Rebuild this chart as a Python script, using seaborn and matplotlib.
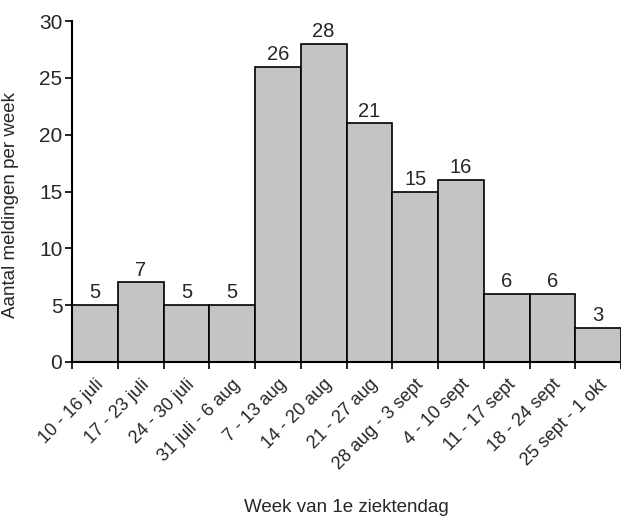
import matplotlib
matplotlib.use("Agg")
import matplotlib.pyplot as plt
import matplotlib.transforms as mtransforms
import seaborn as sns
import numpy as np

weeks = ['10 - 16 juli', '17 - 23 juli', '24 - 30 juli', '31 juli - 6 aug',
         '7 - 13 aug', '14 - 20 aug', '21 - 27 aug', '28 aug - 3 sept',
         '4 - 10 sept', '11 - 17 sept', '18 - 24 sept', '25 sept - 1 okt']
meldingen = [5, 7, 5, 5, 26, 28, 21, 15, 16, 6, 6, 3]

sns.set_style('ticks')
plt.rcParams['font.family'] = ['Liberation Sans', 'DejaVu Sans']

fig = plt.figure(figsize=(6.21, 5.30), dpi=100)
ax = fig.add_axes([0.116, 0.317, 0.884, 0.643])

sns.barplot(x=weeks, y=meldingen, color='#c4c4c6', saturation=1, width=1,
            edgecolor='black', linewidth=1.2, ax=ax)

for i, v in enumerate(meldingen):
    ax.annotate(str(v), (i, v), xytext=(0, 2), textcoords='offset points',
                ha='center', va='bottom', fontsize=14.5)

ax.set_xlim(-0.5, len(weeks) - 0.5)
ax.set_ylim(0, 30)
ax.set_yticks(range(0, 31, 5))
ax.set_xticks(np.arange(len(weeks)))
ax.set_xticklabels(weeks, rotation=45, ha='right', rotation_mode='anchor', fontsize=13)
# schuif de labels een beetje naar rechts, zoals in het origineel
shift = mtransforms.ScaledTranslation(12 / 100, 0, fig.dpi_scale_trans)
for lab in ax.get_xticklabels():
    lab.set_transform(lab.get_transform() + shift)
ax.set_xticks(np.arange(len(weeks) + 1) - 0.5, minor=True)
ax.tick_params(axis='x', which='major', length=0, pad=10)
ax.tick_params(axis='x', which='minor', length=5, width=1.2, color='black')
ax.tick_params(axis='y', length=5, width=1.2, color='black', labelsize=15, pad=2)

sns.despine(ax=ax)
for s in ['left', 'bottom']:
    ax.spines[s].set_color('black')
    ax.spines[s].set_linewidth(1.5)

ax.set_ylabel('Aantal meldingen per week', fontsize=13.5)
ax.yaxis.set_label_coords(-0.097, 0.46)
ax.set_xlabel('Week van 1e ziektendag', fontsize=13.5, labelpad=19)

fig.savefig('out.png', dpi=100)
